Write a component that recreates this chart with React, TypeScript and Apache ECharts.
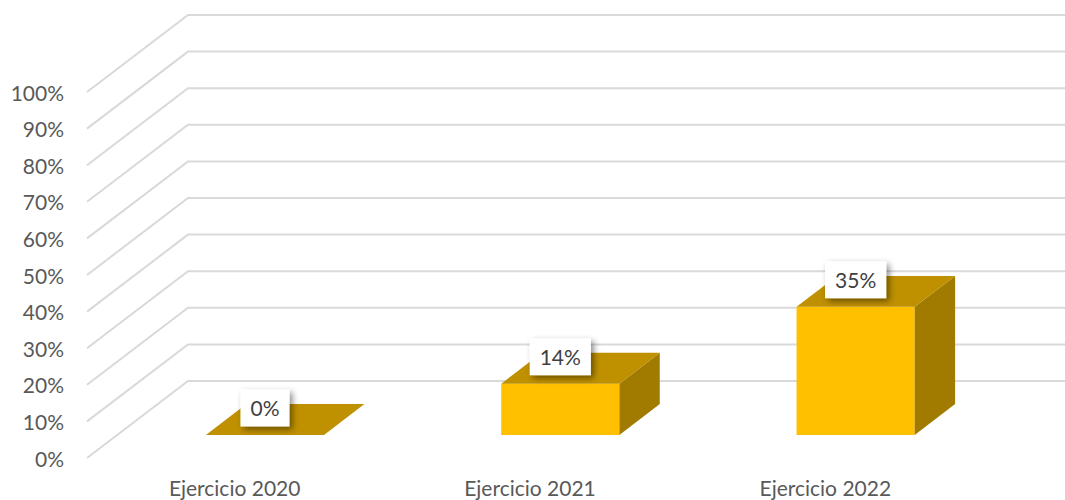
import React, { useEffect, useRef } from "react";
import * as echarts from "echarts";

const categories = ["Ejercicio 2020", "Ejercicio 2021", "Ejercicio 2022"];
const values = [0, 14, 35];
const labels = ["0%", "14%", "35%"];
const yTicks = [0, 10, 20, 30, 40, 50, 60, 70, 80, 90, 100];

const DX = 101;
const DY = -77;
const FONT = "Lato";

export default function App() {
  const ref = useRef<HTMLDivElement>(null);
  useEffect(() => {
    const chart = echarts.init(ref.current!, null, { renderer: "svg" });
    chart.setOption({
      animation: false,
      backgroundColor: "#ffffff",
      grid: { left: 87, right: 92, top: 92, bottom: 42, containLabel: false },
      xAxis: {
        type: "category",
        data: categories,
        axisLine: { show: false },
        axisTick: { show: false },
        splitLine: { show: false },
        axisLabel: { color: "#595959", fontFamily: FONT, fontSize: 21, margin: 19 },
      },
      yAxis: {
        type: "value",
        min: 0,
        max: 100,
        interval: 10,
        axisLine: { show: false },
        axisTick: { show: false },
        splitLine: { show: false },
        axisLabel: {
          color: "#595959",
          fontFamily: FONT,
          fontSize: 21,
          margin: 23,
          formatter: "{value}%",
        },
      },
      series: [
        {
          type: "custom",
          z: 1,
          silent: true,
          data: yTicks.map((t) => [0, t]),
          encode: { x: 0, y: 1 },
          renderItem: (params: any, api: any) => {
            const cs = params.coordSys;
            const y = api.coord([0, api.value(1)])[1];
            const x0 = cs.x;
            return {
              type: "polyline",
              shape: {
                points: [
                  [x0, y],
                  [x0 + DX, y + DY],
                  [x0 + cs.width + DX + 20, y + DY],
                ],
              },
              style: { stroke: "#D9D9D9", lineWidth: 2, fill: null },
            };
          },
        },
        {
          type: "custom",
          z: 2,
          data: values.map((v, i) => [i, v]),
          encode: { x: 0, y: 1 },
          renderItem: (params: any, api: any) => {
            const idx = api.value(0);
            const val = api.value(1);
            const [cx, y0] = api.coord([idx, 0]);
            const y1 = api.coord([idx, val])[1];
            const bandW = api.size([1, 0])[0];
            const w = bandW * 0.4;
            const sx = DX * 0.3;
            const sy = DY * 0.3;
            const dx = DX * 0.4;
            const dy = DY * 0.4;
            const left = cx - w / 2 + sx;
            const right = left + w;
            const bottom = y0 + sy;
            const top = y1 + sy;
            const children: any[] = [];
            if (bottom - top > 0.5) {
              children.push({
                type: "rect",
                shape: { x: left, y: top, width: w, height: bottom - top },
                style: { fill: "#FFC000" },
              });
              children.push({
                type: "polygon",
                shape: {
                  points: [
                    [right, top],
                    [right + dx, top + dy],
                    [right + dx, bottom + dy],
                    [right, bottom],
                  ],
                },
                style: { fill: "#A17B00" },
              });
            }
            children.push({
              type: "polygon",
              shape: {
                points: [
                  [left, top],
                  [right, top],
                  [right + dx, top + dy],
                  [left + dx, top + dy],
                ],
              },
              style: { fill: "#BF9000" },
            });
            children.push({
              type: "text",
              z2: 10,
              style: {
                x: left + w / 2,
                y: top - 27,
                text: labels[idx],
                align: "center",
                verticalAlign: "middle",
                fontFamily: FONT,
                fontSize: 21,
                fill: "#404040",
                backgroundColor: "#ffffff",
                padding: [8, 10, 8, 10],
                shadowColor: "rgba(0,0,0,0.45)",
                shadowBlur: 6,
                shadowOffsetX: 3,
                shadowOffsetY: 3,
              },
            });
            return { type: "group", children };
          },
        },
      ],
    });
    return () => chart.dispose();
  }, []);
  return (
    <div
      ref={ref}
      style={{ position: "fixed", left: 0, top: 0, width: 1065, height: 500 }}
    />
  );
}
